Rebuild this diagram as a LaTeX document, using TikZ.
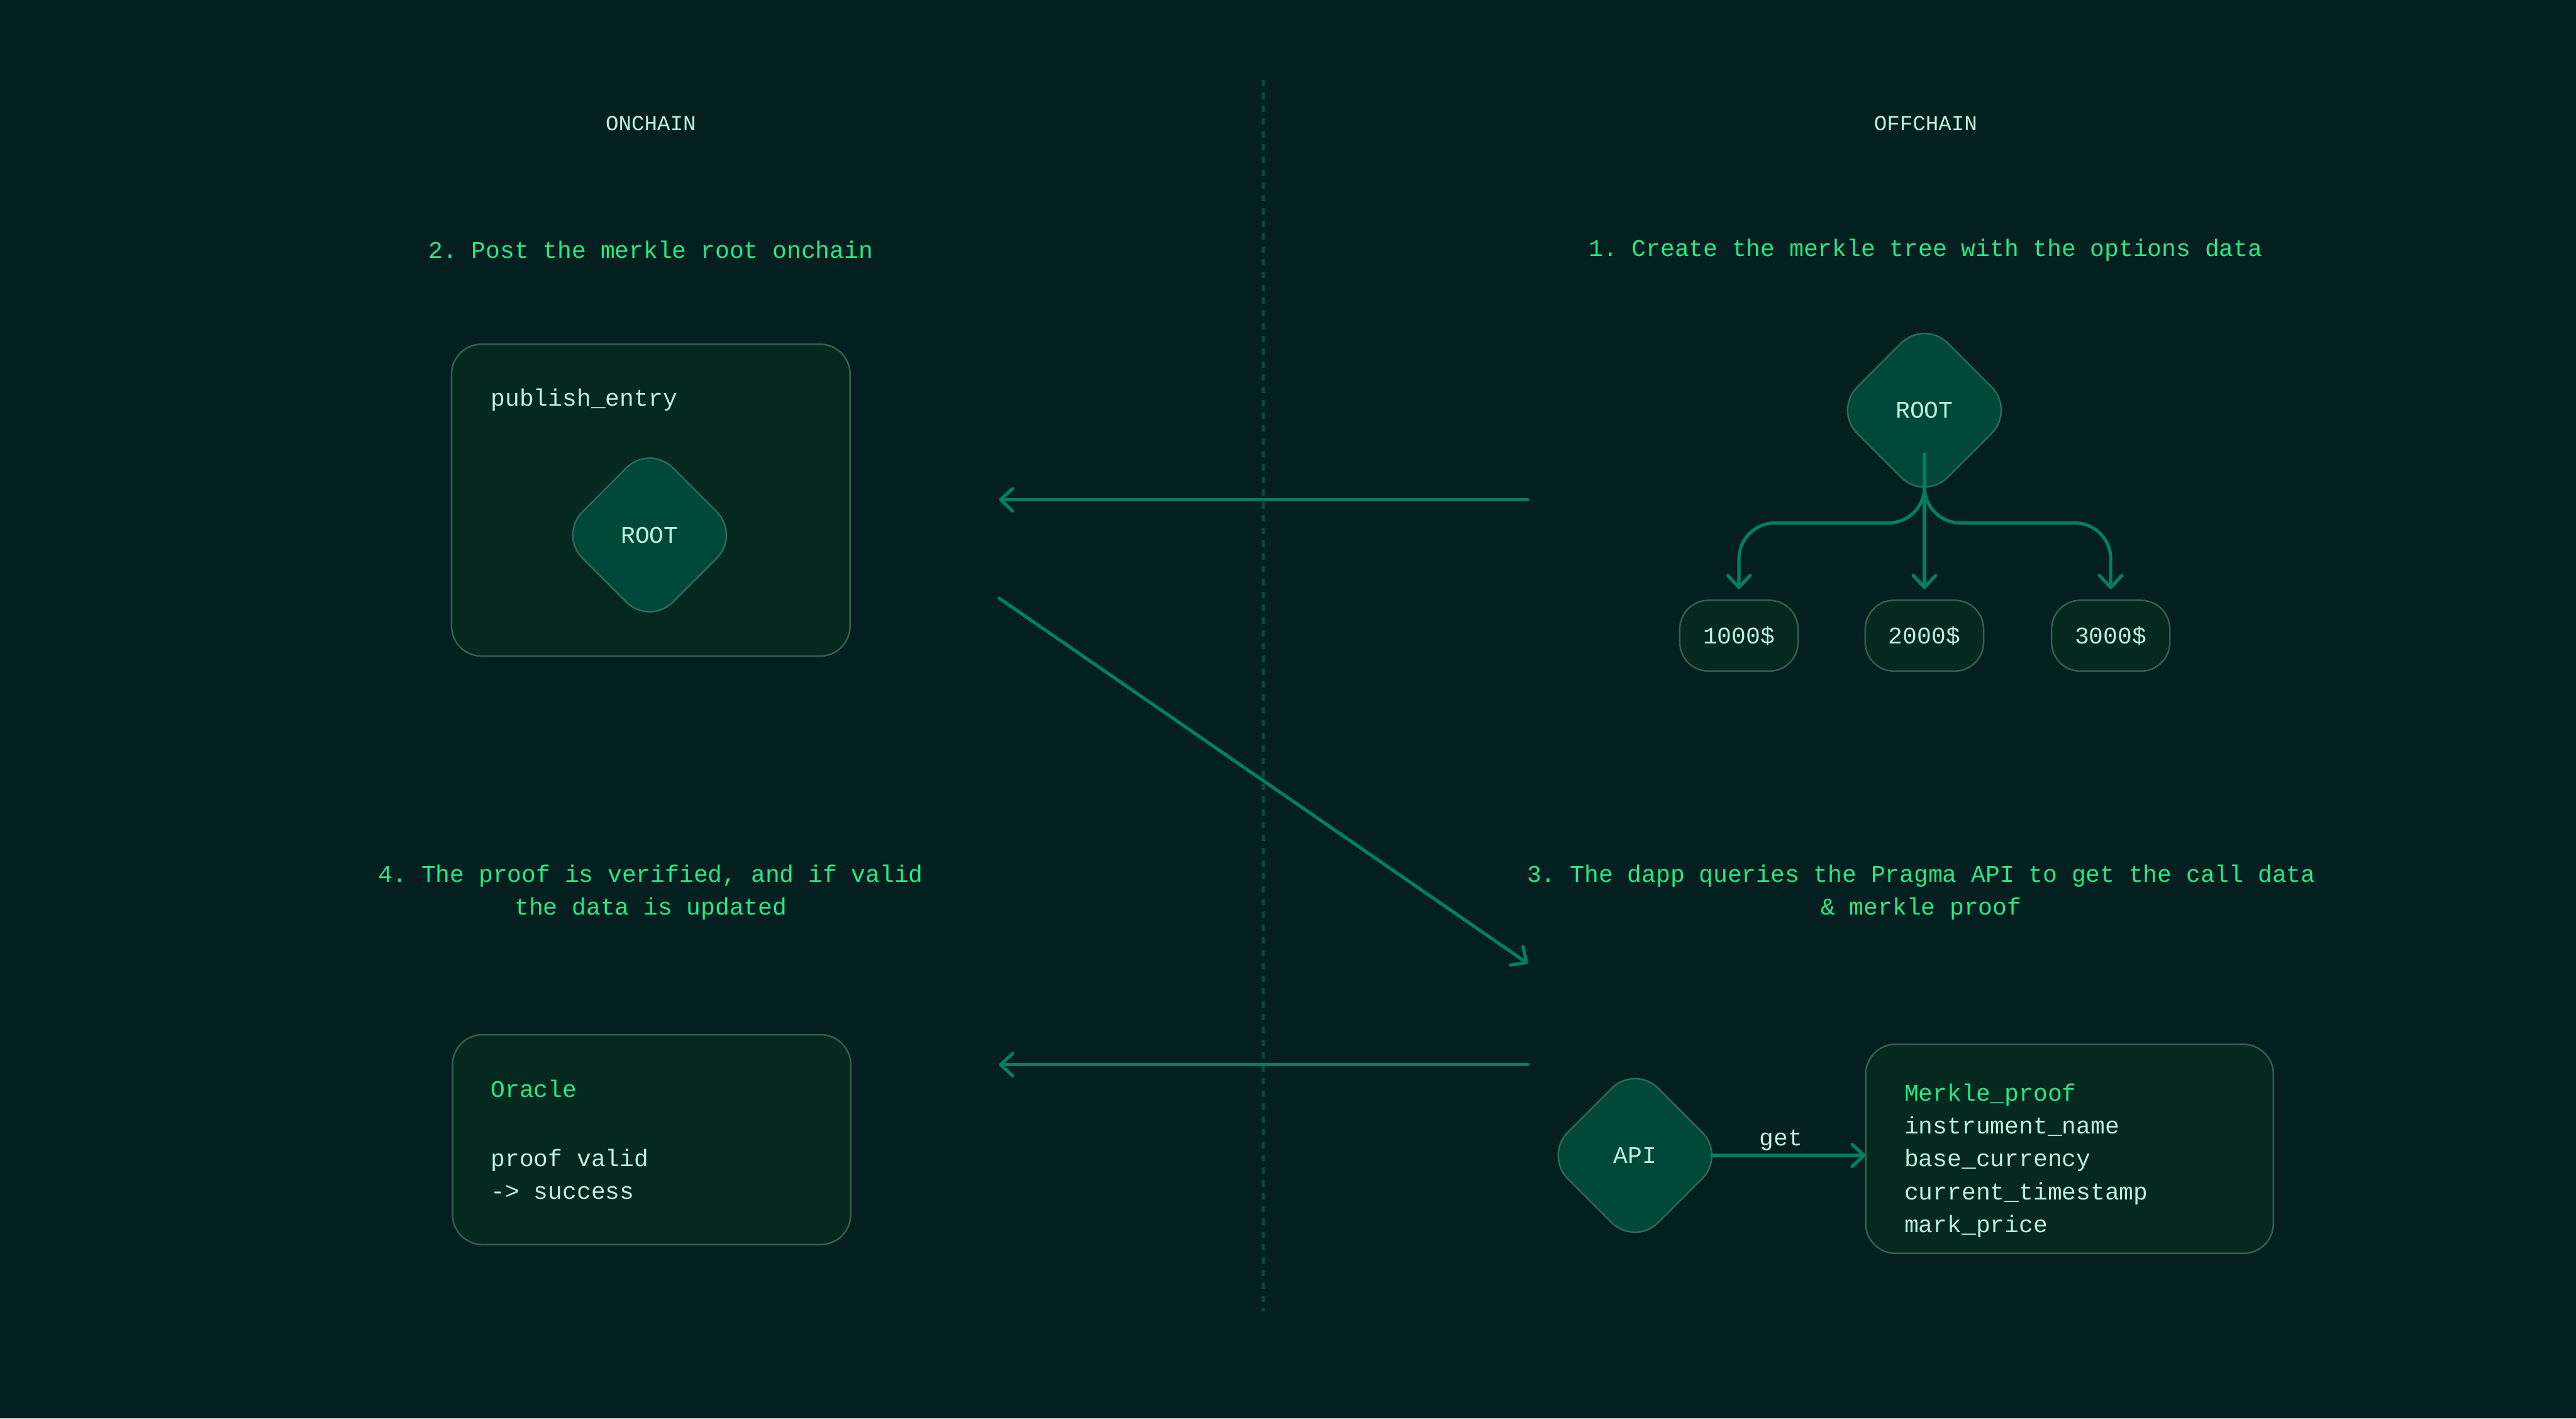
\documentclass[tikz,border=0pt]{standalone}
\usepackage{fontspec}
\setmainfont{Liberation Mono}[WordSpace={1,0,0}]
\usetikzlibrary{arrows.meta,shapes.geometric}
\frenchspacing
\definecolor{bgdark}{HTML}{041F1F}
\definecolor{cardfill}{HTML}{05281F}
\definecolor{cardline}{HTML}{37604F}
\definecolor{rootfill}{HTML}{00483A}
\definecolor{rootline}{HTML}{2F6B5B}
\definecolor{flowgreen}{HTML}{008062}
\definecolor{divline}{HTML}{0A4A3A}
\definecolor{minttext}{HTML}{BAF2DF}
\definecolor{brightgreen}{HTML}{22EB8A}
\begin{document}
\begin{tikzpicture}[scale=1,inner sep=0pt,outer sep=0pt,
txt/.style={font=\fontsize{17}{23.3}\selectfont,text=minttext},
steptitle/.style={font=\fontsize{17}{23.3}\selectfont,text=brightgreen,align=center},
sidetitle/.style={font=\fontsize{15.3}{20}\selectfont,text=minttext},
card/.style={draw=cardline,fill=cardfill,line width=1.1pt,rounded corners=0.75cm},
pill/.style={card,rounded corners=0.72cm,minimum width=2.96cm,minimum height=1.77cm,txt},
rootblock/.style={diamond,aspect=1,draw=rootline,fill=rootfill,line width=1.1pt,rounded corners=0.82cm,minimum width=4.52cm,minimum height=4.52cm,txt},
flow/.style={draw=flowgreen,line width=2.3pt,line cap=round,line join=round,-{Straight Barb[length=3mm,width=5.6mm,round]}}]
\fill[bgdark] (0,0) rectangle (64.44,-35.48);
\useasboundingbox (0,0) rectangle (64.44,-35.48);
\draw[divline,line width=2.3pt,dash pattern=on 0.16cm off 0.16cm] (31.60,-2.0) -- (31.60,-32.80);
% column heads and step titles
\draw (16.28,-3.08) node[sidetitle] (onchain) {ONCHAIN};
\draw (48.17,-3.08) node[sidetitle] (offchain) {OFFCHAIN};
\draw (16.28,-6.25) node[steptitle] (step2) {2. Post the merkle root onchain};
\draw (48.17,-6.25) node[steptitle] (step1) {1. Create the merkle tree with the options data};
\draw (16.28,-22.32) node[steptitle] (step4) {4. The proof is verified, and if valid\\the data is updated};
\draw (48.06,-22.32) node[steptitle] (step3) {3. The dapp queries the Pragma API to get the call data\\\& merkle proof};
% onchain: publish_entry
\draw (16.28,-12.51) node[card,minimum width=9.97cm,minimum height=7.80cm] (pubbox) {};
\draw (12.28,-10.0) node[txt,anchor=west] (pubname) {publish\_entry};
\draw (16.25,-13.38) node[rootblock] (rootL) {ROOT};
% offchain: merkle tree
\draw (48.14,-10.26) node[rootblock] (rootR) {ROOT};
\draw (43.50,-15.90) node[pill] (v1) {1000\$};
\draw (48.14,-15.90) node[pill] (v2) {2000\$};
\draw (52.80,-15.90) node[pill] (v3) {3000\$};
\draw[flow,rounded corners=0.9cm] ([yshift=0.34cm]rootR.south) -- ++(0,-0.9) -| ([yshift=0.28cm]v1.north);
\draw[flow,rounded corners=0.9cm] ([yshift=0.34cm]rootR.south) -- ++(0,-0.9) -| ([yshift=0.28cm]v3.north);
\draw[flow] ([yshift=-1.1cm]rootR.center) -- ([yshift=0.28cm]v2.north);
% offchain: API and proof
\draw (40.90,-28.90) node[rootblock] (api) {API};
\draw (51.77,-28.735) node[card,minimum width=10.20cm,minimum height=5.23cm,txt,align=left,text width=8.26cm] (proofbox) {\rule{0pt}{29pt}\textcolor{brightgreen}{Merkle\_proof}\\instrument\_name\\base\_currency\\current\_timestamp\\mark\_price};
\draw[flow] ([xshift=-0.34cm]api.east) -- (api.east -| proofbox.west) node[pos=0.45,yshift=0.38cm,txt] (getlbl) {get};
% onchain: oracle
\draw (16.30,-28.505) node[card,minimum width=9.96cm,minimum height=5.25cm,txt,align=left,text width=8.04cm] (oracle) {\spaceskip=0.6em\xspaceskip=0.6em\textcolor{brightgreen}{Oracle}\\[0.91cm]proof valid\\-> success};
% steps across the divider
\coordinate (treeout) at (38.22,-12.50);
\coordinate (pubin) at (24.99,-12.50);
\coordinate (pubout) at (24.99,-14.96);
\coordinate (dappin) at (38.22,-24.10);
\coordinate (apiout) at (38.22,-26.63);
\coordinate (oraclein) at (24.99,-26.63);
\draw[flow] (treeout) -- (pubin);
\draw[flow] (pubout) -- (dappin);
\draw[flow] (apiout) -- (oraclein);
\end{tikzpicture}
\end{document}
